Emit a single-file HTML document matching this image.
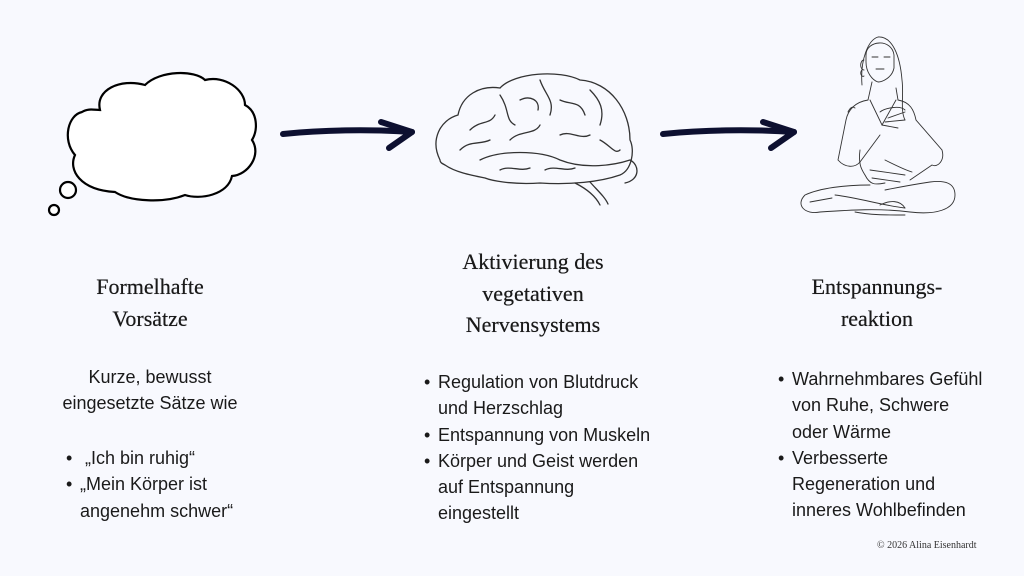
<!DOCTYPE html>
<html><head><meta charset="utf-8">
<style>
html,body{margin:0;padding:0}
body{width:1024px;height:576px;background:#f8f9fe;position:relative;overflow:hidden;font-family:"Liberation Sans",sans-serif;color:#1a1a1a}
.t{position:absolute;font-family:"Liberation Serif",serif;font-size:22px;line-height:31.5px;text-align:center;color:#1a1a1a;text-shadow:0 0 0.4px #1a1a1a;white-space:nowrap}
.b{position:absolute;font-size:18px;line-height:26.3px;white-space:nowrap}
.li{position:relative;padding-left:14px}
.li:before{content:"•";position:absolute;left:0;top:0}
.c{position:absolute;font-family:"Liberation Serif",serif;font-size:10px;color:#333}
</style></head><body>
<svg width="1024" height="576" style="position:absolute;left:0;top:0">
<g fill="#fff" stroke="#000" stroke-width="2.2">
<path d="M100,110 C95,90 120,78 145,85 C160,70 195,70 205,80 C225,75 245,90 245,105 C258,112 258,130 252,140 C262,155 248,175 232,176 C228,195 200,200 185,195 C165,203 130,202 115,192 C80,190 68,170 75,155 C62,140 68,115 82,112 C88,108 95,110 100,110 Z"/>
<circle cx="68" cy="190" r="8"/>
<circle cx="54" cy="210" r="5"/>
</g>
<g fill="none" stroke="#0d1030" stroke-width="6" stroke-linecap="round" stroke-linejoin="round">
<path d="M283,134 C320,130 370,129 412,132"/>
<path d="M381,122 L412,132 L389,148"/>
<path d="M663,134 C700,130 750,129 794,132"/>
<path d="M763,122 L794,132 L771,148"/>
</g>
<g fill="none" stroke="#333" stroke-width="1.3" stroke-linecap="round">
<path d="M440,160 C430,140 440,120 458,115 C462,95 480,85 500,88 C515,72 560,70 580,80 C610,82 630,110 630,140 C635,150 632,170 620,175 C600,182 570,185 540,183 C510,185 490,180 485,178 C470,175 455,172 445,165 C441,163 440,162 440,160 Z"/>
<path d="M480,160 C500,150 540,150 560,160 C585,170 615,165 630,160 C640,165 640,180 625,183"/>
<path d="M575,183 C585,188 595,195 600,205 M590,182 C597,190 605,197 608,204"/>
<path d="M470,130 C480,120 490,125 495,115 M500,95 C510,110 505,120 515,125 M520,100 C530,95 540,100 538,110 M540,80 C545,95 555,100 550,115 M560,100 C570,105 580,100 585,115 M590,90 C600,100 605,110 600,125 M460,150 C470,140 480,145 490,140 M510,140 C520,130 535,135 540,125 M560,135 C570,130 580,140 590,135 M600,140 C610,145 615,155 620,150 M500,170 C510,165 520,172 530,168 M545,170 C555,165 565,172 575,168"/>
</g>
<g fill="none" stroke="#333" stroke-width="0.9" stroke-linecap="round">
<path d="M862,85 C860,60 868,40 878,37 C892,36 900,55 902,80 C904,95 900,110 905,120"/>
<path d="M866,55 C866,40 892,38 894,55 L894,68 C892,78 882,82 878,82 C872,80 866,72 866,62 Z"/>
<path d="M872,57 l6,0 M884,57 l6,0 M876,69 l8,0 M864,60 a2,3 0 0 0 0,10 M862,70 a2,3 0 1 0 2,6"/>
<path d="M872,82 L868,100 C855,102 848,110 846,120 L838,160 C845,168 855,168 860,162 M896,88 L898,100 C910,102 914,110 916,120 L942,150 C945,160 938,168 932,165 L910,180"/>
<path d="M870,100 L882,125 L896,100 M880,112 C885,108 900,105 905,110 M888,118 L905,112 M885,122 L905,120 M882,125 L898,128"/>
<path d="M860,162 L880,135 M848,112 C850,108 852,106 855,108"/>
<path d="M860,150 C858,165 862,170 865,175 C870,185 875,185 885,183 M885,160 C895,165 905,170 912,172 M870,170 L905,175 M872,178 L900,182"/>
<path d="M870,185 C845,185 820,188 805,195 C795,205 805,215 820,212 C850,210 880,208 910,212 C935,215 955,210 955,195 C955,183 945,180 930,182 C910,185 895,188 885,190"/>
<path d="M835,195 C860,198 880,205 905,208 M810,202 L832,198"/>
<path d="M880,205 C890,200 900,200 905,208 M855,212 C870,215 885,215 905,215"/>
</g>
</svg>

<div class="t" style="left:50px;top:271px;width:200px">Formelhafte<br>Vorsätze</div>
<div class="t" style="left:413px;top:246px;width:240px">Aktivierung des<br>vegetativen<br>Nervensystems</div>
<div class="t" style="left:770px;top:271px;width:214px">Entspannungs-<br>reaktion</div>

<div class="b" style="left:40px;top:364px;width:220px;text-align:center">Kurze, bewusst<br>eingesetzte Sätze wie</div>
<div class="b" style="left:66px;top:445px"><div class="li">&nbsp;„Ich bin ruhig“</div><div class="li">„Mein Körper ist<br>angenehm schwer“</div></div>

<div class="b" style="left:424px;top:369px"><div class="li">Regulation von Blutdruck<br>und Herzschlag</div><div class="li">Entspannung von Muskeln</div><div class="li">Körper und Geist werden<br>auf Entspannung<br>eingestellt</div></div>

<div class="b" style="left:778px;top:366px"><div class="li">Wahrnehmbares Gefühl<br>von Ruhe, Schwere<br>oder Wärme</div><div class="li">Verbesserte<br>Regeneration und<br>inneres Wohlbefinden</div></div>

<div class="c" style="left:877px;top:540px">© 2026 Alina Eisenhardt</div>
</body></html>
